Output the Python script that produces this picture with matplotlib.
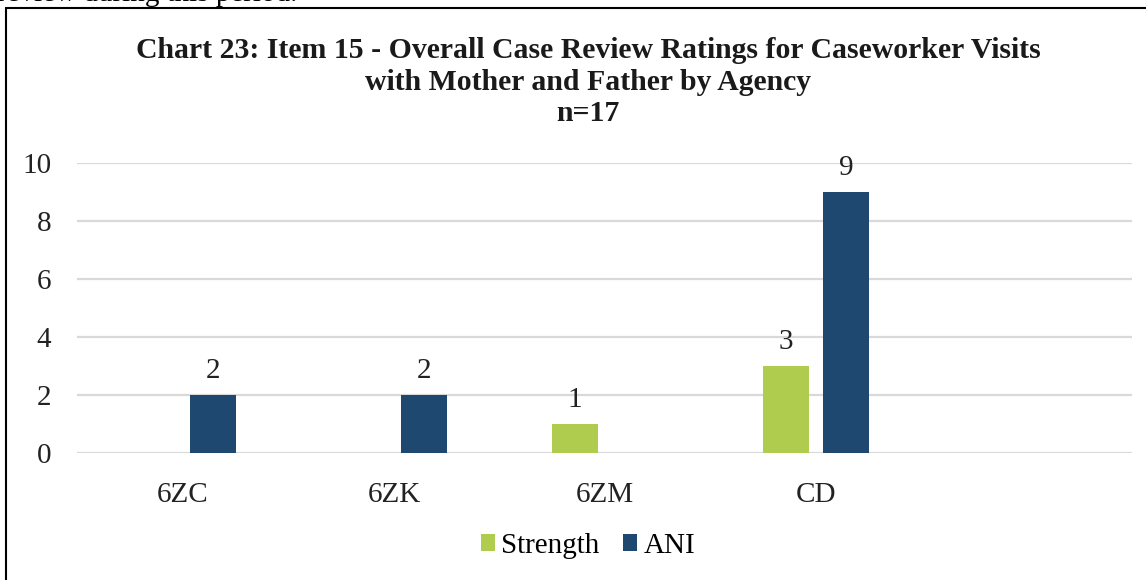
import numpy as np
import matplotlib
matplotlib.use('Agg')
import matplotlib.pyplot as plt
from matplotlib.patches import Rectangle

plt.rcParams['font.family'] = ['Liberation Serif', 'DejaVu Serif']

# chart data
agencies = ['6ZC', '6ZK', '6ZM', 'CD', '']
strength = [np.nan, np.nan, 1, 3, np.nan]
ani = [2, 2, np.nan, 9, np.nan]
series_names = ['Strength', 'ANI']
title = ('Chart 23: Item 15 - Overall Case Review Ratings for Caseworker Visits\n'
         'with Mother and Father by Agency\nn=17')

green = '#B0CC4E'
navy = '#1F4870'
grid_col = '#D9D9D9'

fig = plt.figure(figsize=(11.46, 5.8), dpi=100)
ax = fig.add_axes([0.0676, 0.219, 0.9206, 0.5])

x = np.arange(len(agencies))
w = 0.218
off = 0.142
b1 = ax.bar(x - off, strength, w, color=green, label=series_names[0])
b2 = ax.bar(x + off, ani, w, color=navy, label=series_names[1])

for bars, vals in ((b1, strength), (b2, ani)):
    labels = ['' if np.isnan(v) else f'{int(v)}' for v in vals]
    ax.bar_label(bars, labels=labels, padding=8, fontsize=21, color='#222222')

ax.set_xlim(-0.5, len(agencies) - 0.5)
ax.set_ylim(0, 10)
ax.set_yticks(range(0, 11, 2))
ax.set_xticks(x)
ax.set_xticklabels(agencies)
ax.tick_params(axis='both', length=0, labelsize=21, colors='#222222')
ax.tick_params(axis='x', pad=21)
ax.tick_params(axis='y', pad=19)
ax.yaxis.grid(True, color=grid_col, linewidth=1.6)
ax.set_axisbelow(True)
for s in ax.spines.values():
    s.set_visible(False)

fig.text(0.513, 0.858, title, ha='center', va='center', fontsize=21.4,
         fontweight='bold', linespacing=1.22, color='#1a1a1a')

leg = fig.legend(loc='center', bbox_to_anchor=(0.513, 0.059), ncol=2,
                 frameon=False, fontsize=21, handlelength=0.5, handleheight=0.5,
                 handletextpad=0.2, columnspacing=0.8)

# surrounding box and clipped line of document text above it
fig.patches.append(Rectangle((6 / 1146, -0.1), 1.2, 1.1 - 8 / 580,
                             transform=fig.transFigure, fill=False,
                             edgecolor='black', linewidth=1.5))
fig.text(-0.003, 1.01, 'review during this period.', ha='left', va='center',
         fontsize=21)

fig.savefig('out.png', dpi=100)
